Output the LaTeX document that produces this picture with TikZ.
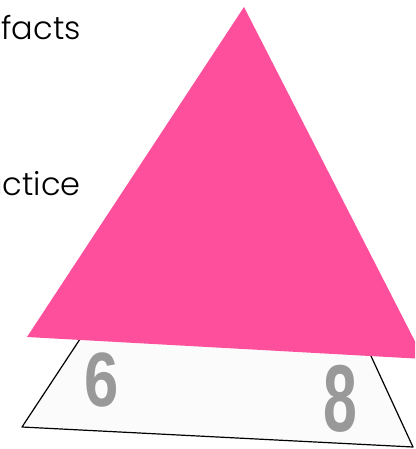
\documentclass[tikz,border=0pt]{standalone}
\usepackage{fontspec}
\setmainfont{Poppins}[UprightFont=* Light]
\newfontfamily\digitfont{Liberation Sans}
\definecolor{trianglepink}{RGB}{253,79,155}
\definecolor{digitgray}{RGB}{153,153,153}
\definecolor{cardwhite}{RGB}{251,251,251}

\begin{document}
\begin{tikzpicture}[x=1pt, y=-1pt,
        label/.style={anchor=base east, inner sep=0pt, font=\fontsize{32}{36}\selectfont},
        digit/.style={inner sep=0pt, text=digitgray, font=\digitfont\bfseries}
    ]
        \useasboundingbox (0,0) rectangle (415,449);
        \clip (0,0) rectangle (415,449);

        % lower card with the two numbers
        \draw[fill=cardwhite, line width=1.2pt, line join=round] (86,330) -- (22,427) -- (413,447) -- (365,343) -- cycle;
        \node[digit, font=\digitfont\bfseries\fontsize{77}{80}\selectfont, xscale=0.8] (six) at (102,380) {6};
        \node[digit, font=\digitfont\bfseries\fontsize{95}{98}\selectfont, xscale=0.64] (eight) at (340,399) {8};

        % pink triangle on top
        \fill[trianglepink] (244,7) -- (27,337) -- (424,359) -- cycle;

        % text cut at the left edge
        \node[label] (facts) at (81,40) {facts};
        \node[label] (practice) at (81,195) {practice};
    \end{tikzpicture}
\end{document}
